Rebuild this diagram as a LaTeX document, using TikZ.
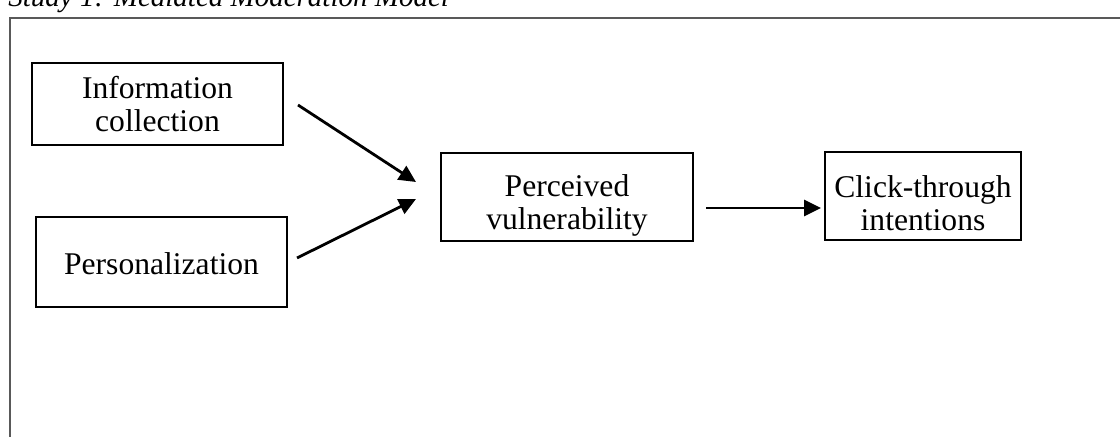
\documentclass[tikz,border=0pt]{standalone}
\usepackage{fontspec}
\setmainfont{Liberation Serif}
\usetikzlibrary{arrows.meta}
\newcommand{\twolines}[3]{\raisebox{#3}[\height][\depth]{\begin{tabular}{@{}c@{}}#1\\#2\end{tabular}}}
\begin{document}
\begin{tikzpicture}[x=0.5pt,y=-0.5pt,
  box/.style={draw=black,line width=0.55pt,align=center,inner sep=0pt,
    font=\fontsize{15.8}{16.5}\selectfont},
  conn/.style={line width=1.4pt,-{Triangle[length=8.5pt,width=8pt]}},
  frame/.style={draw=black!65,line width=0.8pt}]
\useasboundingbox (0,0) rectangle (1120,437);
\node[anchor=base west,font=\fontsize{14.5}{16}\selectfont\itshape,inner sep=0pt] (title) at (8,7) {Study 1: Mediated Moderation Model};
\draw[frame] (10,437) -- (10,18) -- (1125,18);
\node[box,minimum width=125.5pt,minimum height=41pt] (info) at (157.5,104) {\twolines{Information}{collection}{-2pt}};
\node[box,minimum width=125.5pt,minimum height=45pt] (pers) at (161.5,262) {\raisebox{-1pt}[\height][\depth]{Personalization}};
\node[box,minimum width=126pt,minimum height=44pt] (perc) at (567,197) {\twolines{Perceived}{vulnerability}{-4.5pt}};
\node[box,minimum width=98pt,minimum height=44pt] (click) at (923,196) {\twolines{Click-through}{intentions}{-5.5pt}};
\coordinate (a1s) at (298,105);
\coordinate (a1e) at (416,182);
\coordinate (a2s) at (297,258);
\coordinate (a2e) at (416,199);
\coordinate (a3s) at (706,208);
\coordinate (a3e) at (821,208);
\draw[conn] (a1s) -- (a1e);
\draw[conn] (a2s) -- (a2e);
\draw[conn] (a3s) -- (a3e);
\end{tikzpicture}
\end{document}
